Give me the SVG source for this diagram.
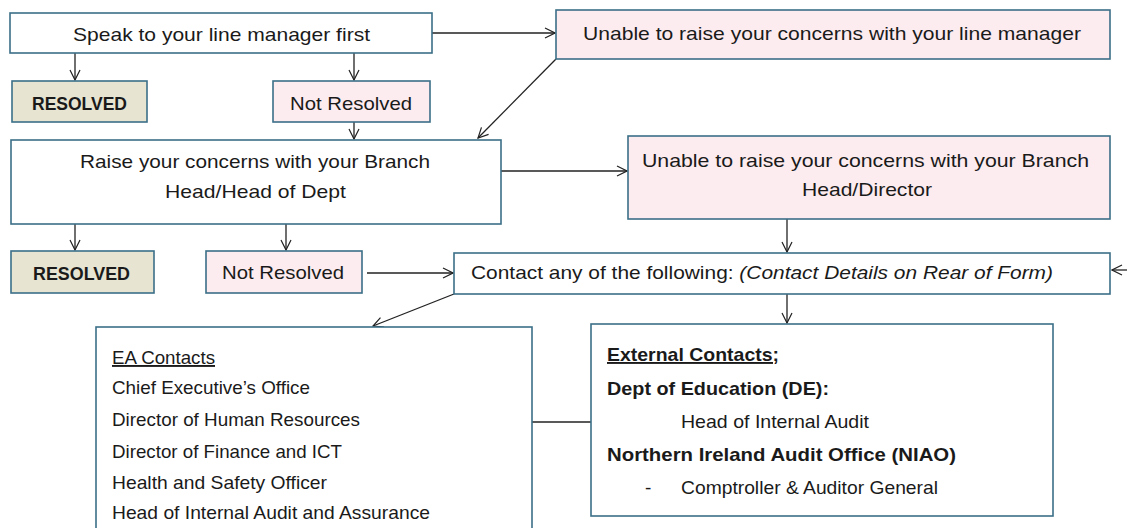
<svg xmlns="http://www.w3.org/2000/svg" width="1127" height="528" viewBox="0 0 1127 528">
<defs>
<marker id="ah" viewBox="0 0 12 12" refX="11" refY="6" markerWidth="12" markerHeight="12" markerUnits="userSpaceOnUse" orient="auto">
<path d="M1,1 L11,6 L1,11" fill="none" stroke="#222" stroke-width="1.2"/>
</marker>
<style>
.box{stroke:#3b6f88;stroke-width:1.6}
.w{fill:#ffffff}
.p{fill:#fcecef}
.o{fill:#e7e5d2}
.t{font-family:"Liberation Sans",Arial,sans-serif;font-size:19px;fill:#1a1a1a}
.b{font-weight:bold}
.c{stroke:#222;stroke-width:1.3;fill:none}
</style>
</defs>
<rect width="1127" height="528" fill="#ffffff"/>
<g id="connectors">
<line class="c" x1="432" y1="33" x2="555" y2="33" marker-end="url(#ah)"/>
<line class="c" x1="75" y1="53" x2="75" y2="80" marker-end="url(#ah)"/>
<line class="c" x1="354" y1="53" x2="354" y2="80" marker-end="url(#ah)"/>
<line class="c" x1="556" y1="59" x2="478" y2="138" marker-end="url(#ah)"/>
<line class="c" x1="354" y1="122" x2="354" y2="139" marker-end="url(#ah)"/>
<line class="c" x1="501" y1="171" x2="627" y2="171" marker-end="url(#ah)"/>
<line class="c" x1="75" y1="224" x2="75" y2="250" marker-end="url(#ah)"/>
<line class="c" x1="286" y1="224" x2="286" y2="250" marker-end="url(#ah)"/>
<line class="c" x1="787" y1="219" x2="787" y2="252" marker-end="url(#ah)"/>
<line class="c" x1="367" y1="273" x2="453" y2="273" marker-end="url(#ah)"/>
<line class="c" x1="1127" y1="270" x2="1112" y2="270" marker-end="url(#ah)"/>
<line class="c" x1="454" y1="294" x2="373" y2="326" marker-end="url(#ah)"/>
<line class="c" x1="787" y1="294" x2="787" y2="323" marker-end="url(#ah)"/>
<line class="c" x1="532" y1="422" x2="591" y2="422"/>
</g>
<g id="n1"><rect class="box w" x="10" y="13" width="422" height="40"/><text class="t" x="73" y="41" textLength="297" lengthAdjust="spacingAndGlyphs">Speak to your line manager first</text></g>
<g id="n2"><rect class="box o" x="12" y="81" width="135" height="41"/><text class="t b" x="32" y="110" textLength="95" lengthAdjust="spacingAndGlyphs">RESOLVED</text></g>
<g id="n3"><rect class="box p" x="273" y="81" width="157" height="41"/><text class="t" x="290" y="110" textLength="122" lengthAdjust="spacingAndGlyphs">Not Resolved</text></g>
<g id="n4"><rect class="box p" x="556" y="10" width="554" height="49"/><text class="t" x="583" y="40" textLength="498" lengthAdjust="spacingAndGlyphs">Unable to raise your concerns with your line manager</text></g>
<g id="n5"><rect class="box w" x="11" y="140" width="490" height="84"/><text class="t" x="80" y="168" textLength="350" lengthAdjust="spacingAndGlyphs">Raise your concerns with your Branch</text><text class="t" x="165" y="198" textLength="181" lengthAdjust="spacingAndGlyphs">Head/Head of Dept</text></g>
<g id="n6"><rect class="box p" x="628" y="136" width="482" height="83"/><text class="t" x="642" y="167" textLength="447" lengthAdjust="spacingAndGlyphs">Unable to raise your concerns with your Branch</text><text class="t" x="802" y="196" textLength="130" lengthAdjust="spacingAndGlyphs">Head/Director</text></g>
<g id="n7"><rect class="box o" x="11" y="251" width="143" height="42"/><text class="t b" x="33" y="280" textLength="97" lengthAdjust="spacingAndGlyphs">RESOLVED</text></g>
<g id="n8"><rect class="box p" x="206" y="251" width="156" height="42"/><text class="t" x="222" y="279" textLength="122" lengthAdjust="spacingAndGlyphs">Not Resolved</text></g>
<g id="n9"><rect class="box w" x="454" y="253" width="656" height="41"/><text class="t" x="471" y="279" textLength="582" lengthAdjust="spacingAndGlyphs">Contact any of the following: <tspan font-style="italic">(Contact Details on Rear of Form)</tspan></text></g>
<g id="n10"><rect class="box w" x="96" y="327" width="436" height="220"/>
<text class="t" x="112" y="364" text-decoration="underline" textLength="103" lengthAdjust="spacingAndGlyphs">EA Contacts</text>
<text class="t" x="112" y="394" textLength="198" lengthAdjust="spacingAndGlyphs">Chief Executive’s Office</text>
<text class="t" x="112" y="426" textLength="248" lengthAdjust="spacingAndGlyphs">Director of Human Resources</text>
<text class="t" x="112" y="458" textLength="230" lengthAdjust="spacingAndGlyphs">Director of Finance and ICT</text>
<text class="t" x="112" y="489" textLength="215" lengthAdjust="spacingAndGlyphs">Health and Safety Officer</text>
<text class="t" x="112" y="519" textLength="318" lengthAdjust="spacingAndGlyphs">Head of Internal Audit and Assurance</text></g>
<g id="n11"><rect class="box w" x="591" y="324" width="462" height="192"/>
<text class="t b" x="607" y="361" text-decoration="underline" textLength="172" lengthAdjust="spacingAndGlyphs">External Contacts;</text>
<text class="t b" x="607" y="395" textLength="222" lengthAdjust="spacingAndGlyphs">Dept of Education (DE):</text>
<text class="t" x="681" y="428" textLength="188" lengthAdjust="spacingAndGlyphs">Head of Internal Audit</text>
<text class="t b" x="607" y="461" textLength="349" lengthAdjust="spacingAndGlyphs">Northern Ireland Audit Office (NIAO)</text>
<text class="t" x="645" y="494">-</text>
<text class="t" x="681" y="494" textLength="257" lengthAdjust="spacingAndGlyphs">Comptroller &amp; Auditor General</text></g>
</svg>
